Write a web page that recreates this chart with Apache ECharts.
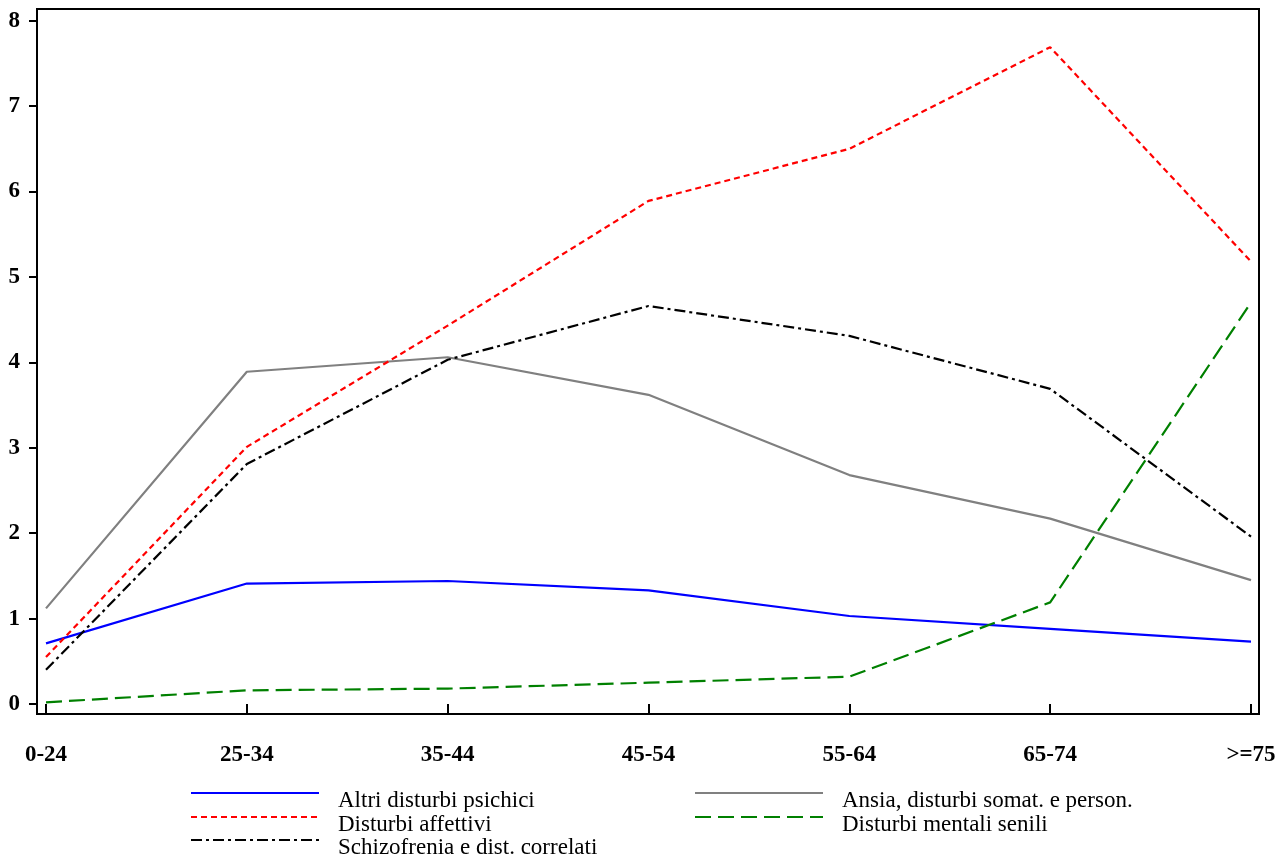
<!DOCTYPE html>
<html>
<head>
<meta charset="utf-8">
<script src="https://cdn.jsdelivr.net/npm/echarts@6/dist/echarts.min.js"></script>
<style>html,body{margin:0;padding:0;background:#fff}#c{width:1288px;height:859px}</style>
</head>
<body>
<div id="c"></div>
<script>
const categories = ['0-24', '25-34', '35-44', '45-54', '55-64', '65-74', '>=75'];
const yTicks = [0, 1, 2, 3, 4, 5, 6, 7, 8];
const altri = [0.71, 1.41, 1.44, 1.33, 1.03, 0.88, 0.73];
const affettivi = [0.55, 3.01, 4.43, 5.89, 6.50, 7.69, 5.18];
const schizofrenia = [0.40, 2.81, 4.03, 4.66, 4.31, 3.69, 1.96];
const ansia = [1.12, 3.89, 4.06, 3.62, 2.68, 2.17, 1.45];
const senili = [0.02, 0.16, 0.18, 0.25, 0.32, 1.19, 4.70];

const serif = '"Liberation Serif", "DejaVu Serif", serif';
const chart = echarts.init(document.getElementById('c'), null, {renderer: 'canvas'});

function mk(name, data, color, type, width) {
  return {
    name: name, type: 'line', data: data, xAxisIndex: 1, yAxisIndex: 1,
    symbol: 'none', showSymbol: false, silent: true, animation: false,
    lineStyle: {color: color, type: type, width: width},
    itemStyle: {color: color}
  };
}
function leg(name, left, top) {
  return {
    left: left, top: top, padding: 0, orient: 'horizontal',
    itemWidth: 128, itemHeight: 14, data: [name], selectedMode: false,
    itemStyle: {opacity: 0, borderWidth: 0},
    formatter: function (n) { return '\n' + n; },
    textStyle: {fontFamily: serif, fontSize: 23, lineHeight: 15, color: '#000', padding: [0, 0, 0, 14]}
  };
}

chart.setOption({
  animation: false,
  backgroundColor: '#fff',
  grid: [
    {left: 37, top: 9, width: 1222, height: 705, show: true, borderColor: '#000', borderWidth: 2, backgroundColor: 'transparent'},
    {left: 46, right: 37, top: 20.7, bottom: 155}
  ],
  xAxis: [
    {gridIndex: 0, type: 'value', show: false, min: 0, max: 1},
    {gridIndex: 1, type: 'category', data: categories, boundaryGap: false, offset: 10,
     axisLine: {show: false},
     axisTick: {show: true, length: 10, inside: false, lineStyle: {color: '#000', width: 2}},
     axisLabel: {margin: 30, color: '#000', fontFamily: serif, fontWeight: 'bold', fontSize: 23, interval: 0},
     splitLine: {show: false}}
  ],
  yAxis: [
    {gridIndex: 0, type: 'value', show: false, min: 0, max: 1},
    {gridIndex: 1, type: 'value', min: yTicks[0], max: yTicks[yTicks.length - 1], interval: 1, offset: 9,
     axisLine: {show: false},
     axisTick: {show: true, length: 8, inside: false, lineStyle: {color: '#000', width: 2}},
     axisLabel: {margin: 17, color: '#000', fontFamily: serif, fontWeight: 'bold', fontSize: 23},
     splitLine: {show: false}}
  ],
  legend: [
    leg('Altri disturbi psichici', 190, 774),
    leg('Disturbi affettivi', 190, 798),
    leg('Schizofrenia e dist. correlati', 190, 821),
    leg('Ansia, disturbi somat. e person.', 694, 774),
    leg('Disturbi mentali senili', 694, 798)
  ],
  series: [
    mk('Altri disturbi psichici', altri, '#0000ff', 'solid', 2.2),
    mk('Ansia, disturbi somat. e person.', ansia, '#808080', 'solid', 2.2),
    mk('Disturbi affettivi', affettivi, '#ff0000', [6, 4], 2.2),
    mk('Disturbi mentali senili', senili, '#008000', [16, 7], 2.2),
    mk('Schizofrenia e dist. correlati', schizofrenia, '#000000', [11, 4, 3, 4], 2.2)
  ]
});
</script>
</body>
</html>
